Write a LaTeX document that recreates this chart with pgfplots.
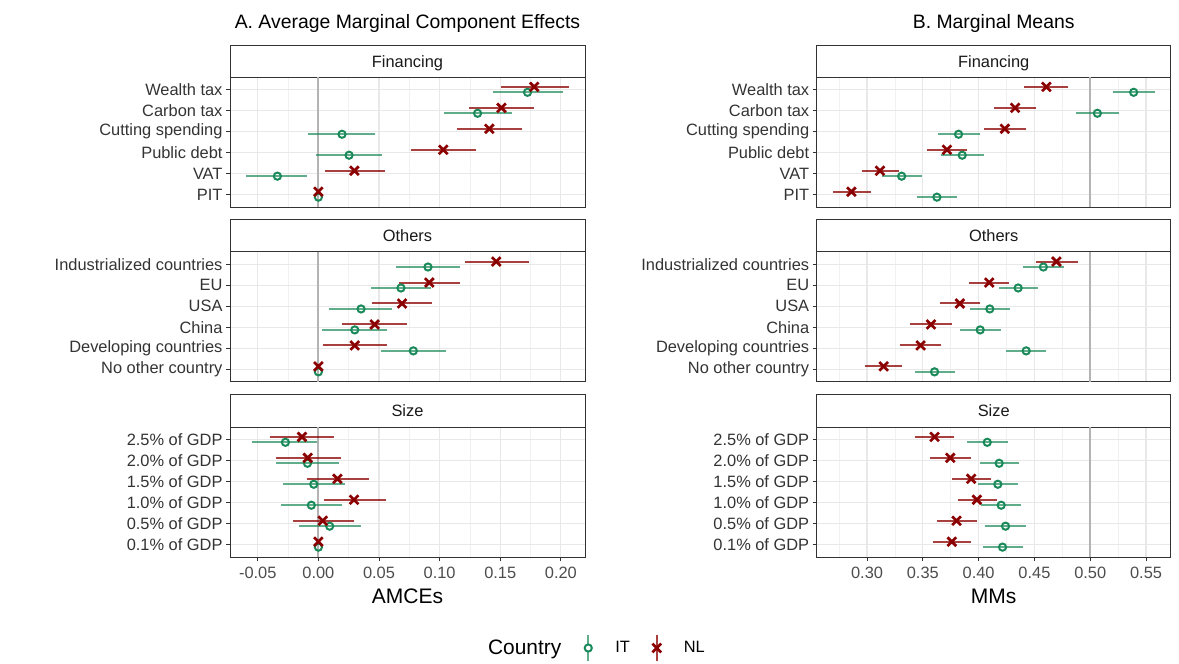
\documentclass[border=0pt]{standalone}
\usepackage{fontspec}
\setmainfont{Liberation Sans}
\usepackage{pgfplots}
\usepackage{pgfplotstable}
\pgfplotsset{compat=1.18}
\definecolor{itgreen}{HTML}{1B8A5A}
\definecolor{nlred}{HTML}{8B0000}
\definecolor{border}{HTML}{333333}
\definecolor{gridc}{HTML}{E8E8E8}
\definecolor{gridm}{HTML}{F1F1F1}
\definecolor{zeroc}{HTML}{B3B3B3}
\definecolor{labc}{HTML}{333333}
\definecolor{tickc}{HTML}{4D4D4D}
\newcommand\fs[1]{\fontsize{#1}{#1}\selectfont}

% AMCE tables: row, IT estimate/low/high, NL estimate/low/high
\pgfplotstableread{
row itx itlo ithi nlx nllo nlhi
1 0.1725 0.1437 0.2019 0.178 0.1505 0.2066
2 0.1313 0.1036 0.160 0.151 0.1245 0.178
3 0.0195 -0.0082 0.0467 0.141 0.114 0.1676
4 0.0253 -0.0016 0.0522 0.103 0.0761 0.130
5 -0.0338 -0.0596 -0.0091 0.0297 0.0055 0.055
6 0 0 0 0 0 0
}\AFin
\pgfplotstableread{
row itx itlo ithi nlx nllo nlhi
1 0.0904 0.0637 0.117 0.1467 0.1209 0.1736
2 0.0681 0.0431 0.0929 0.0915 0.0668 0.117
3 0.0352 0.009 0.061 0.069 0.0445 0.094
4 0.030 0.0033 0.0569 0.0464 0.0195 0.0734
5 0.0783 0.0516 0.1055 0.030 0.0036 0.0569
6 0 0 0 0 0 0
}\AOth
\pgfplotstableread{
row itx itlo ithi nlx nllo nlhi
1 -0.0272 -0.0547 -0.0014 -0.0135 -0.0398 0.0132
2 -0.009 -0.035 0.0173 -0.0088 -0.0352 0.0184
3 -0.0038 -0.0294 0.0223 0.0157 -0.0096 0.0415
4 -0.0058 -0.0308 0.0195 0.0294 0.0047 0.0555
5 0.0093 -0.016 0.0349 0.0036 -0.0212 0.0294
6 0 0 0 0 0 0
}\ASiz
% MM tables
\pgfplotstableread{
row itx itlo ithi nlx nllo nlhi
1 0.5389 0.5204 0.5577 0.4607 0.441 0.4804
2 0.5064 0.4876 0.526 0.4327 0.4136 0.4515
3 0.382 0.3632 0.4008 0.4235 0.405 0.442
4 0.3853 0.3665 0.4047 0.3716 0.3534 0.390
5 0.331 0.3131 0.3492 0.3116 0.2952 0.3286
6 0.3626 0.345 0.3805 0.286 0.2693 0.3039
}\MFin
\pgfplotstableread{
row itx itlo ithi nlx nllo nlhi
1 0.458 0.4396 0.4766 0.4697 0.4518 0.4888
2 0.4354 0.4181 0.4536 0.4095 0.3913 0.4276
3 0.41 0.3925 0.4282 0.3832 0.3653 0.4014
4 0.4014 0.3829 0.4202 0.3573 0.3388 0.3757
5 0.4426 0.4244 0.4607 0.348 0.3295 0.3665
6 0.3605 0.343 0.3784 0.3149 0.2985 0.3313
}\MOth
\pgfplotstableread{
row itx itlo ithi nlx nllo nlhi
1 0.4077 0.3895 0.4262 0.3605 0.3432 0.3781
2 0.4184 0.4008 0.436 0.3746 0.3564 0.3928
3 0.4172 0.3993 0.4354 0.3933 0.3758 0.4112
4 0.4202 0.4017 0.4378 0.3984 0.3814 0.4163
5 0.4241 0.4053 0.4423 0.3802 0.3626 0.3981
6 0.4214 0.4035 0.4396 0.376 0.3588 0.3936
}\MSiz

\pgfplotsset{
  facet/.style={
    scale only axis, height=130pt, anchor=north west,
    y dir=reverse, ymin=0.4, ymax=6.6, ytick={1,...,6},
    xmajorgrids, ymajorgrids, xminorgrids,
    major grid style={draw=gridc, line width=1.2pt},
    minor grid style={draw=gridm, line width=0.7pt},
    axis line style={draw=border, line width=1pt},
    tick align=outside, major tick length=4pt, minor tick length=0pt,
    tick style={draw=border, line width=1pt},
    tick pos=left,
    yticklabel style={font=\fs{16.4}, text=labc},
    xticklabel style={font=\fs{16.4}, text=tickc, yshift=-3pt},
    /pgf/number format/assume math mode=true,
  },
  amce/.style={facet, width=355pt, xmin=-0.0729, xmax=0.2199,
    xtick={-0.05,0,0.05,0.10,0.15,0.20},
    xticklabels={-0.05,0.00,0.05,0.10,0.15,0.20},
    minor xtick={-0.025,0.025,0.075,0.125,0.175}},
  mm/.style={facet, width=354pt, xmin=0.2549, xmax=0.5721,
    xtick={0.30,0.35,0.40,0.45,0.50,0.55},
    xticklabels={0.30,0.35,0.40,0.45,0.50,0.55},
    minor xtick={0.275,0.325,0.375,0.425,0.475,0.525}},
  upper/.style={xmajorticks=false},
  zline/.style={zeroc, line width=1.8pt, forget plot},
  itplot/.style={only marks, mark=o, mark size=3.6pt, color=itgreen, line width=2pt,
    error bars/.cd, x dir=both, x explicit, error mark=none,
    error bar style={line width=2pt, color=itgreen, opacity=0.7}},
  nlplot/.style={only marks, mark=x, mark size=6.2pt, color=nlred, line width=2.7pt,
    error bars/.cd, x dir=both, x explicit, error mark=none,
    error bar style={line width=2pt, color=nlred, opacity=0.75}},
}
\newcommand\itdata[1]{\addplot[itplot] table[x=itx, y expr=\thisrow{row}+0.13,
   x error plus expr=\thisrow{ithi}-\thisrow{itx},
   x error minus expr=\thisrow{itx}-\thisrow{itlo}] {#1};}
\newcommand\nldata[1]{\addplot[nlplot] table[x=nlx, y expr=\thisrow{row}-0.13,
   x error plus expr=\thisrow{nlhi}-\thisrow{nlx},
   x error minus expr=\thisrow{nlx}-\thisrow{nllo}] {#1};}

\begin{document}
\begin{tikzpicture}
\path[use as bounding box] (0pt,0pt) rectangle (1179pt,-664pt);

% titles
\node[anchor=base, font=\fs{19.4}] at (407.5pt,-28pt) {A. Average Marginal Component Effects};
\node[anchor=base, font=\fs{19.4}] at (993.7pt,-28pt) {B. Marginal Means};

% strips
\foreach \xa/\xb in {230/585, 816.7/1170.7}{
  \draw[border, line width=1pt, fill=white] (\xa pt,-45pt) rectangle (\xb pt,-77pt);
  \draw[border, line width=1pt, fill=white] (\xa pt,-219.3pt) rectangle (\xb pt,-251.7pt);
  \draw[border, line width=1pt, fill=white] (\xa pt,-394pt) rectangle (\xb pt,-427pt);
  \node[anchor=base, font=\fs{16.4}, text=black!90] at ({(\xa+\xb)/2*1pt},-67pt) {Financing};
  \node[anchor=base, font=\fs{16.4}, text=black!90] at ({(\xa+\xb)/2*1pt},-241.4pt) {Others};
  \node[anchor=base, font=\fs{16.4}, text=black!90] at ({(\xa+\xb)/2*1pt},-416.4pt) {Size};
}

% ---------- A: AMCE ----------
\begin{axis}[amce, upper, at={(230pt,-77pt)},
  yticklabels={Wealth tax,Carbon tax,Cutting spending,Public debt,VAT,PIT}]
\addplot[zline] coordinates {(0,0.4) (0,6.6)};
\itdata{\AFin}
\nldata{\AFin}
\end{axis}

\begin{axis}[amce, upper, at={(230pt,-251.7pt)},
  yticklabels={Industrialized countries,EU,USA,China,Developing countries,No other country}]
\addplot[zline] coordinates {(0,0.4) (0,6.6)};
\itdata{\AOth}
\nldata{\AOth}
\end{axis}

\begin{axis}[amce, at={(230pt,-427pt)},
  yticklabels={2.5\% of GDP,2.0\% of GDP,1.5\% of GDP,1.0\% of GDP,0.5\% of GDP,0.1\% of GDP},
  xlabel={AMCEs}, xlabel style={font=\fs{21}, at={(axis description cs:0.5,0)}, anchor=base, yshift=-46pt},
  legend style={at={(1.338,-0.70)}, anchor=east, draw=none, fill=none, inner sep=0pt,
     legend columns=-1, column sep=19pt, nodes={inner sep=0pt}, font=\fs{16.4}}]
\addlegendimage{empty legend}\addlegendentry{\fs{20.9}Country}
\addplot[zline] coordinates {(0,0.4) (0,6.6)};
\addplot[legend image code/.code={
    \path[draw=none, fill=none] (-8pt,-13pt) rectangle (8pt,13pt);
    \draw[itgreen, opacity=0.7, line width=1.6pt] (0pt,-13pt) -- (0pt,13pt);
    \draw[itgreen, line width=2pt, fill=white] (0pt,0pt) circle (3.6pt);},
  itplot] table[x=itx, y expr=\thisrow{row}+0.13,
   x error plus expr=\thisrow{ithi}-\thisrow{itx},
   x error minus expr=\thisrow{itx}-\thisrow{itlo}] {\ASiz};
\addlegendentry{IT}
\addplot[legend image code/.code={
    \path[draw=none, fill=none] (-8pt,-13pt) rectangle (8pt,13pt);
    \draw[nlred, opacity=0.75, line width=1.6pt] (0pt,-13pt) -- (0pt,13pt);
    \draw[nlred, line width=2.7pt] (-4.4pt,-4.4pt) -- (4.4pt,4.4pt) (-4.4pt,4.4pt) -- (4.4pt,-4.4pt);},
  nlplot] table[x=nlx, y expr=\thisrow{row}-0.13,
   x error plus expr=\thisrow{nlhi}-\thisrow{nlx},
   x error minus expr=\thisrow{nlx}-\thisrow{nllo}] {\ASiz};
\addlegendentry{NL}
\end{axis}

% ---------- B: MM ----------
\begin{axis}[mm, upper, at={(816.7pt,-77pt)},
  yticklabels={Wealth tax,Carbon tax,Cutting spending,Public debt,VAT,PIT}]
\addplot[zline] coordinates {(0.5,0.4) (0.5,6.6)};
\itdata{\MFin}
\nldata{\MFin}
\end{axis}

\begin{axis}[mm, upper, at={(816.7pt,-251.7pt)},
  yticklabels={Industrialized countries,EU,USA,China,Developing countries,No other country}]
\addplot[zline] coordinates {(0.5,0.4) (0.5,6.6)};
\itdata{\MOth}
\nldata{\MOth}
\end{axis}

\begin{axis}[mm, at={(816.7pt,-427pt)},
  yticklabels={2.5\% of GDP,2.0\% of GDP,1.5\% of GDP,1.0\% of GDP,0.5\% of GDP,0.1\% of GDP},
  xlabel={MMs}, xlabel style={font=\fs{21}, at={(axis description cs:0.5,0)}, anchor=base, yshift=-46pt}]
\addplot[zline] coordinates {(0.5,0.4) (0.5,6.6)};
\itdata{\MSiz}
\nldata{\MSiz}
\end{axis}
\end{tikzpicture}
\end{document}
